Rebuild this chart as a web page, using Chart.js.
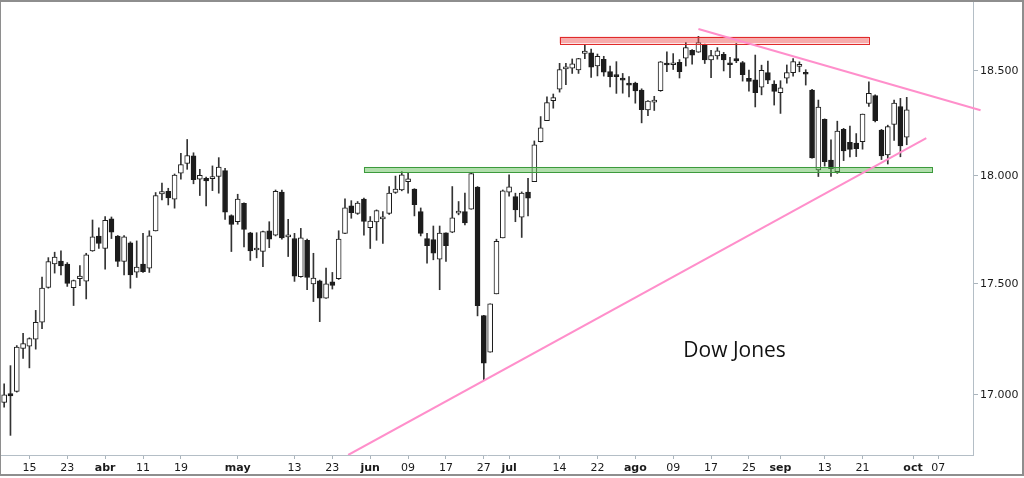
<!DOCTYPE html>
<html><head><meta charset="utf-8">
<script src="https://cdn.jsdelivr.net/npm/chart.js@4.4.0/dist/chart.umd.min.js"></script>
<style>html,body{margin:0;padding:0;background:#fff;}#wrap{width:1024px;height:478px;position:relative;}</style>
</head><body><div id="wrap"><canvas id="c" width="1024" height="478"></canvas></div>
<script>
const dates = ['03-09','03-10','03-11','03-14','03-15','03-16','03-17','03-18','03-21','03-22','03-23','03-24','03-28','03-29','03-30','03-31',
'04-01','04-04','04-05','04-06','04-07','04-08','04-11','04-12','04-13','04-14','04-15','04-18','04-19','04-20','04-21','04-22','04-25','04-26','04-27','04-28','04-29',
'05-02','05-03','05-04','05-05','05-06','05-09','05-10','05-11','05-12','05-13','05-16','05-17','05-18','05-19','05-20','05-23','05-24','05-25','05-26','05-27','05-31',
'06-01','06-02','06-03','06-06','06-07','06-08','06-09','06-10','06-13','06-14','06-15','06-16','06-17','06-20','06-21','06-22','06-23','06-24','06-27','06-28','06-29','06-30',
'07-01','07-05','07-06','07-07','07-08','07-11','07-12','07-13','07-14','07-15','07-18','07-19','07-20','07-21','07-22','07-25','07-26','07-27','07-28','07-29',
'08-01','08-02','08-03','08-04','08-05','08-08','08-09','08-10','08-11','08-12','08-15','08-16','08-17','08-18','08-19','08-22','08-23','08-24','08-25','08-26','08-29','08-30','08-31',
'09-01','09-02','09-06','09-07','09-08','09-09','09-12','09-13','09-14','09-15','09-16','09-19','09-20','09-21','09-22','09-23','09-26','09-27','09-28','09-29','09-30',
'10-03','10-04','10-05','10-06','10-07','10-10','10-11','10-12','10-13','10-14'];

const opens = [16966,17006,17015,17207,17217,17249,17325,17483,17591,17604,
17590,17482,17524,17512,17651,17719,17662,17799,17719,17602,
17688,17553,17590,17572,17743,17916,17928,17891,18013,18059,
18094,17985,17989,17987,17997,18025,17814,17786,17872,17735,
17655,17649,17744,17724,17924,17716,17708,17533,17700,17500,
17514,17435,17509,17523,17732,17860,17825,17891,17758,17785,
17799,17825,17922,17934,17973,17938,17833,17708,17703,17613,
17735,17737,17826,17833,17844,17947,17355,17190,17454,17711,
17924,17903,17807,17924,17973,18161,18262,18357,18412,18510,
18514,18505,18585,18588,18524,18556,18497,18476,18460,18441,
18441,18408,18313,18350,18405,18535,18530,18542,18562,18600,
18591,18629,18553,18573,18580,18535,18560,18541,18465,18457,
18422,18492,18437,18395,18465,18492,18522,18492,18408,18028,
18268,18075,18020,18220,18158,18155,18162,18344,18381,18217,
18099,18243,18329,18183];

const highs = [17049,17130,17220,17275,17255,17379,17531,17620,17645,17651,
17597,17517,17584,17640,17794,17758,17810,17808,17722,17722,
17693,17697,17732,17744,17922,17966,17942,18009,18106,18172,
18109,18031,17994,18047,18086,18036,17818,17914,17874,17737,
17735,17742,17786,17934,17934,17797,17732,17755,17705,17640,
17517,17572,17552,17744,17892,17884,17880,17896,17810,17841,
17833,17950,17999,18020,18013,17940,17850,17732,17766,17766,
17735,17950,17880,17919,18012,17950,17356,17409,17705,17934,
18005,17919,17925,17989,18165,18281,18376,18389,18537,18537,
18558,18561,18625,18606,18582,18571,18523,18545,18488,18473,
18446,18414,18357,18378,18546,18593,18584,18555,18638,18603,
18668,18630,18600,18613,18590,18566,18633,18546,18504,18577,
18528,18548,18453,18453,18529,18560,18544,18506,18411,18360,
18270,18170,18259,18225,18236,18200,18293,18448,18385,18220,
18240,18360,18368,18373];

const lows = [16945,16821,17012,17162,17120,17204,17296,17480,17549,17541,
17488,17401,17492,17431,17649,17662,17567,17708,17579,17541,
17480,17529,17552,17552,17743,17888,17864,17849,17985,18031,
17963,17908,17860,17931,17919,17797,17648,17774,17669,17607,
17619,17579,17666,17720,17705,17625,17511,17530,17473,17419,
17328,17433,17476,17520,17730,17802,17820,17724,17662,17700,
17685,17820,17918,17930,17919,17813,17720,17594,17610,17473,
17602,17735,17818,17771,17844,17354,17067,17190,17454,17711,
17905,17786,17713,17813,17973,18160,18262,18321,18398,18434,
18488,18488,18560,18469,18476,18475,18423,18392,18393,18375,
18345,18251,18285,18310,18402,18496,18507,18466,18524,18533,
18590,18536,18468,18557,18500,18467,18540,18451,18403,18327,
18385,18439,18336,18296,18441,18475,18496,18432,18084,17997,
18046,17997,18012,18072,18090,18091,18126,18330,18255,18077,
18056,18168,18090,18147];

const closes = [17000,16995,17213,17229,17251,17325,17481,17602,17623,17582,
17502,17515,17535,17633,17716,17685,17792,17737,17603,17716,
17541,17577,17556,17721,17908,17926,17897,18004,18053,18096,
17982,18003,17977,17990,18041,17830,17773,17891,17750,17651,
17660,17740,17705,17928,17711,17720,17535,17711,17529,17526,
17435,17500,17493,17706,17851,17828,17873,17787,17789,17838,
17807,17920,17938,18005,17986,17865,17732,17675,17640,17733,
17675,17804,17830,17780,18011,17400,17141,17409,17695,17930,
17949,17841,17919,17896,18147,18227,18348,18372,18507,18517,
18534,18560,18596,18518,18571,18494,18473,18473,18456,18432,
18404,18314,18355,18352,18544,18529,18534,18496,18613,18577,
18637,18553,18574,18598,18553,18530,18548,18482,18449,18395,
18503,18455,18401,18419,18492,18545,18526,18484,18085,18326,
18067,18034,18212,18118,18125,18129,18293,18392,18262,18094,
18233,18346,18142,18313];

const tickDates = ['03-15','03-23','04-01','04-11','04-19','05-02','05-13','05-23','06-01','06-09','06-17','06-27','07-01','07-14','07-22','08-01','08-09','08-17','08-25','09-01','09-13','09-21','10-03','10-07'];
const tickTexts = ['15','23','abr','11','19','may','13','23','jun','09','17','27','jul','14','22','ago','09','17','25','sep','13','21','oct','07'];
const monthTicks = ['abr','may','jun','jul','ago','sep','oct'];
const priceTicks = [17000,17500,18000,18500];
const priceRange = [16735,18841];

const resistanceZone = ['07-14','09-22',18634,18666];
const supportZone = ['05-31','10-06',18017,18042];
const trendLower = [[54.5,16735],[146.1,18178]];
const trendUpper = [[110,18704],[154.7,18311]];
const labelText = 'Dow Jones';
const labelAnchor = [107.6,17170];

const fmt = v => String(v).replace(/\B(?=(\d{3})+(?!\d))/g,'.');
const isUp = i => closes[i] >= opens[i];

const overlay = {
  id:'overlay',
  beforeDraw(chart){const c=chart.ctx;c.save();c.fillStyle='#fff';c.fillRect(0,0,chart.width,chart.height);c.restore();},
  afterDatasetsDraw(chart){
    const {ctx, chartArea:a, scales:{x,y}} = chart;
    ctx.save();
    ctx.beginPath(); ctx.rect(a.left,a.top,a.right-a.left,a.bottom-a.top); ctx.clip();
    const zone = (z, fill, stroke) => {
      const x0 = x.getPixelForValue(dates.indexOf(z[0])), x1 = x.getPixelForValue(dates.indexOf(z[1]));
      const y0 = y.getPixelForValue(z[3]), y1 = y.getPixelForValue(z[2]);
      ctx.fillStyle = fill; ctx.fillRect(x0,y0,x1-x0,y1-y0);
      ctx.strokeStyle = stroke; ctx.lineWidth = 1;
      ctx.strokeRect(Math.round(x0)+0.5, Math.round(y0)+0.5, Math.round(x1-x0), Math.round(y1-y0));
    };
    zone(supportZone,'rgba(100,190,90,0.5)','#3c9a3c');
    zone(resistanceZone,'rgba(240,90,90,0.5)','#e02a2a');
    ctx.strokeStyle = '#ff8fcb'; ctx.lineWidth = 2;
    ctx.beginPath();
    ctx.moveTo(x.getPixelForValue(trendLower[0][0]), y.getPixelForValue(trendLower[0][1]));
    ctx.lineTo(x.getPixelForValue(trendLower[1][0]), y.getPixelForValue(trendLower[1][1]));
    ctx.stroke();
    ctx.restore();
    ctx.save();
    ctx.strokeStyle = '#ff8fcb'; ctx.lineWidth = 2;
    ctx.beginPath();
    ctx.moveTo(x.getPixelForValue(trendUpper[0][0]), y.getPixelForValue(trendUpper[0][1]));
    ctx.lineTo(x.getPixelForValue(trendUpper[1][0]), y.getPixelForValue(trendUpper[1][1]));
    ctx.stroke();
    ctx.fillStyle = '#111';
    ctx.font = '21px "Open Sans"';
    ctx.textAlign = 'left'; ctx.textBaseline = 'alphabetic';
    ctx.fillText(labelText, x.getPixelForValue(labelAnchor[0]), y.getPixelForValue(labelAnchor[1]));
    ctx.restore();
  },
  afterDraw(chart){
    const c = chart.ctx; c.save();
    c.fillStyle = '#8e8e8e';
    c.fillRect(0,0,1024,2); c.fillRect(0,0,1,476); c.fillRect(1022,0,2,476); c.fillRect(0,474,1024,2);
    c.fillStyle = '#fff'; c.fillRect(0,476,1024,2);
    c.restore();
  }
};

new Chart(document.getElementById('c'), {
  type:'bar',
  data:{
    labels: dates,
    datasets:[
      { label:'body', order:0,
        data: dates.map((d,i)=> i<closes.length ? [opens[i], closes[i]] : null),
        backgroundColor: ctx => isUp(ctx.dataIndex) ? '#ffffff' : '#1c1c1c',
        borderColor:'#1c1c1c', borderWidth:1, borderSkipped:false, barThickness:5, minBarLength:2 },
      { label:'wick', order:1,
        data: dates.map((d,i)=> i<closes.length ? [lows[i], highs[i]] : null),
        backgroundColor:'#333333', borderWidth:0, barThickness:1 }
    ]
  },
  options:{
    responsive:false, animation:false, devicePixelRatio:1,
    layout:{padding:{left:1,top:1,right:0,bottom:0}},
    datasets:{bar:{grouped:false}},
    plugins:{legend:{display:false}, tooltip:{enabled:false}},
    scales:{
      x:{ type:'category', offset:true,
        grid:{display:true, drawOnChartArea:false, drawTicks:true, tickLength:4, offset:false, color:'#aab4bc'},
        border:{display:true, color:'#b4bec6'},
        ticks:{ autoSkip:false, maxRotation:0, minRotation:0, padding:3, color:'#1a1a1a',
          font: ctx => ({family:'DejaVu Sans', size:11, weight: (ctx.tick && monthTicks.includes(ctx.tick.label)) ? 'bold' : 'normal'}),
          callback(v){ const i = tickDates.indexOf(this.getLabelForValue(v)); return i<0 ? '' : tickTexts[i]; } },
        afterBuildTicks(s){ s.ticks = s.ticks.filter(t => tickDates.includes(dates[t.value])); },
        afterFit(s){ s.height = 23; s.paddingLeft = 0; s.paddingRight = 0; s.paddingTop = 0; s.paddingBottom = 0; } },
      y:{ type:'logarithmic', position:'right', min:priceRange[0], max:priceRange[1],
        grid:{drawOnChartArea:false, drawTicks:true, tickLength:5, color:'#aab4bc'},
        border:{display:true, color:'#b4bec6'},
        ticks:{ color:'#1a1a1a', padding:2, font:{family:'DejaVu Sans', size:11}, callback: v => fmt(v) },
        afterBuildTicks(s){ s.ticks = priceTicks.map(v => ({value:v})); },
        afterFit(s){ s.width = 51; s.paddingTop = 0; s.paddingBottom = 0; s.paddingLeft = 0; s.paddingRight = 0; } }
    }
  },
  plugins:[overlay]
});
</script></body></html>
